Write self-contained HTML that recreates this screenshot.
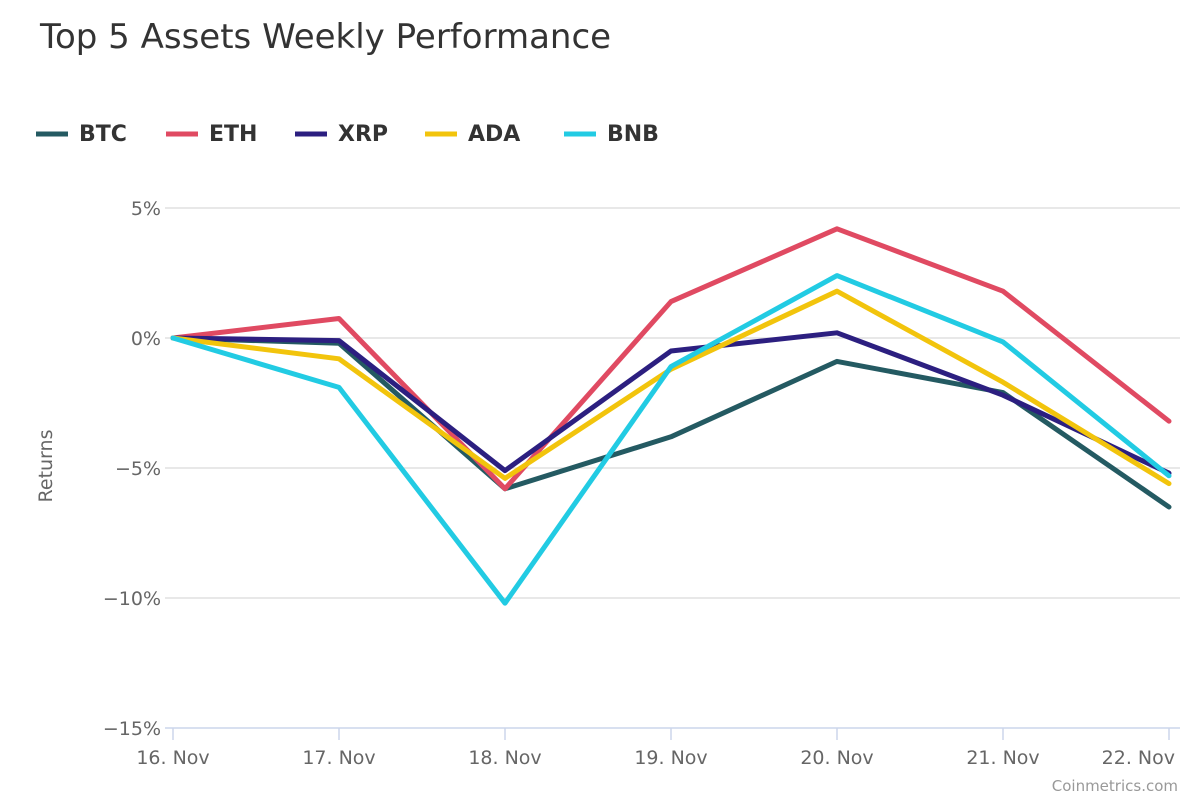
<!DOCTYPE html>
<html><head><meta charset="utf-8"><style>
body{margin:0;background:#fff;font-family:"DejaVu Sans","Liberation Sans",sans-serif;}
svg{display:block}
</style></head><body>
<svg id="chart" width="1200" height="800" xmlns="http://www.w3.org/2000/svg">
<text x="40" y="48" font-size="34" fill="#333">Top 5 Assets Weekly Performance</text>
<g id="legend"></g>
<g id="grid"></g>
<g id="series"></g>
<text transform="translate(52,466) rotate(-90)" text-anchor="middle" font-size="19" fill="#666">Returns</text>
<text x="1178" y="791" text-anchor="end" font-size="15" fill="#999">Coinmetrics.com</text>
</svg>
<script>
const categories=["16. Nov","17. Nov","18. Nov","19. Nov","20. Nov","21. Nov","22. Nov"];
const yTicks=[5,0,-5,-10,-15];
const seriesNames=["BTC","ETH","XRP","ADA","BNB"];
const seriesColors=["#245a62","#e04a62","#2c1f80","#f2c40c","#22cbe3"];
const btc=[0,-0.2,-5.8,-3.8,-0.9,-2.1,-6.5];
const eth=[0,0.75,-5.8,1.4,4.2,1.8,-3.2];
const xrp=[0,-0.1,-5.1,-0.5,0.2,-2.2,-5.2];
const ada=[0,-0.8,-5.4,-1.2,1.8,-1.7,-5.6];
const bnb=[0,-1.9,-10.2,-1.1,2.4,-0.15,-5.3];
const allSeries=[btc,eth,xrp,ada,bnb];
const NS="http://www.w3.org/2000/svg";
const x=i=>173+i*(1169-173)/(categories.length-1);
const y=v=>338-v*26;
function mk(tag,attrs,parent){const e=document.createElementNS(NS,tag);for(const k in attrs)e.setAttribute(k,attrs[k]);parent.appendChild(e);return e;}
const grid=document.getElementById('grid');
yTicks.forEach(t=>{
  if(t!==-15){const l=mk('line',{x1:165,x2:1180,y1:y(t),y2:y(t),stroke:'#e0e0e0','stroke-width':1.5},grid);
  
  }
  const tx=mk('text',{x:161,y:y(t)+7,'text-anchor':'end','font-size':19,fill:'#666'},grid);
  
  
  tx.textContent=(t<0?'−'+(-t):t)+'%';
});
const ax=mk('line',{x1:165,x2:1180,y1:728,y2:728,stroke:'#ccd6eb','stroke-width':1.5},grid);


categories.forEach((c,i)=>{
  const tk=mk('line',{x1:x(i),x2:x(i),y1:728,y2:740,stroke:'#ccd6eb','stroke-width':1.5},grid);
  
  
  const last=i===categories.length-1;
  const tx=mk('text',{x:last?1175:x(i),y:764,'text-anchor':last?'end':'middle','font-size':19,fill:'#666'},grid);
  
  
  tx.textContent=c;
});
const sg=document.getElementById('series');
allSeries.forEach((s,k)=>{
  const p=mk('polyline',{points:s.map((v,i)=>x(i)+','+y(v)).join(' '),fill:'none',stroke:seriesColors[k],'stroke-width':5,'stroke-linejoin':'round','stroke-linecap':'round'},sg);
  
  
});
const lg=document.getElementById('legend');
const lx=[36,166,295,425,564];
seriesNames.forEach((n,k)=>{
  const g=mk('g',{},lg);
  
  
  mk('line',{x1:lx[k],x2:lx[k]+32,y1:134,y2:134,stroke:seriesColors[k],'stroke-width':5},g);
  const t=mk('text',{x:lx[k]+43,y:141,'font-size':22,'font-weight':'bold',fill:'#333'},g);
  t.textContent=n;
});
</script>
</body></html>
